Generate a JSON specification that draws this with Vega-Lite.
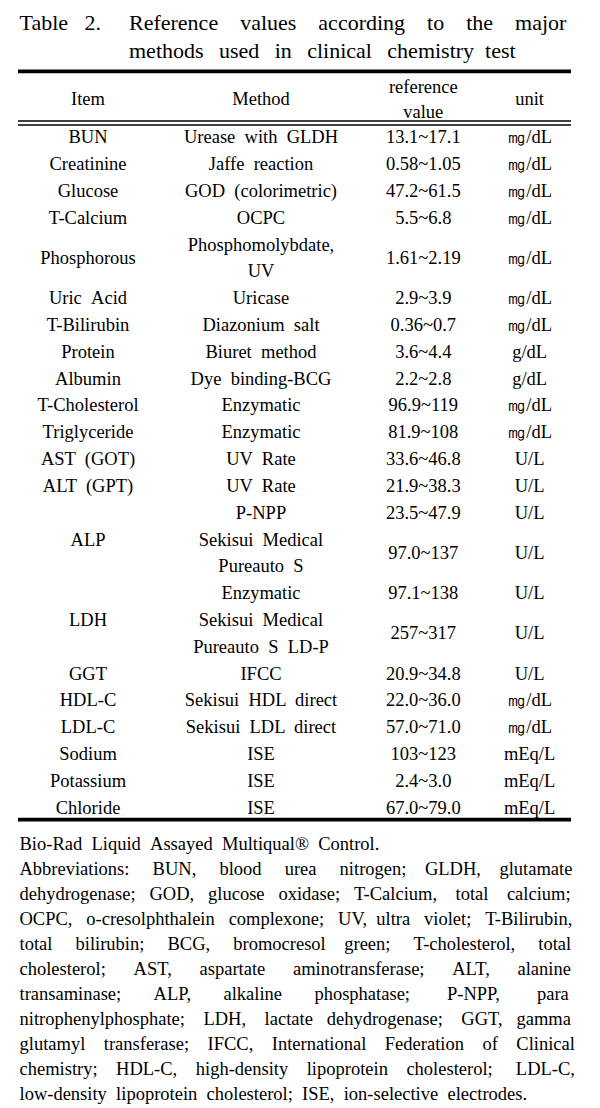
{
  "$schema": "https://vega.github.io/schema/vega-lite/v6.json",
  "width": 600,
  "height": 1108,
  "autosize": {"type": "fit", "contains": "padding"},
  "padding": {"left": 16, "right": 27, "top": 0, "bottom": 0},
  "background": "#ffffff",
  "config": {"view": {"stroke": null}},
  "datasets": {
    "header": [
      {"line": 0, "col": 1, "text": "Item"},
      {"line": 0, "col": 2, "text": "Method"},
      {"line": -0.5, "col": 3, "text": "reference\nvalue"},
      {"line": 0, "col": 4, "text": "unit"}
    ],
    "body": [
      {"line": 1, "col": 1, "text": "BUN"},
      {"line": 1, "col": 2, "text": "Urease \u00a0with \u00a0GLDH"},
      {"line": 1, "col": 3, "text": "13.1~17.1"},
      {"line": 1, "col": 4, "text": "㎎/dL"},
      {"line": 2, "col": 1, "text": "Creatinine"},
      {"line": 2, "col": 2, "text": "Jaffe \u00a0reaction"},
      {"line": 2, "col": 3, "text": "0.58~1.05"},
      {"line": 2, "col": 4, "text": "㎎/dL"},
      {"line": 3, "col": 1, "text": "Glucose"},
      {"line": 3, "col": 2, "text": "GOD \u00a0(colorimetric)"},
      {"line": 3, "col": 3, "text": "47.2~61.5"},
      {"line": 3, "col": 4, "text": "㎎/dL"},
      {"line": 4, "col": 1, "text": "T-Calcium"},
      {"line": 4, "col": 2, "text": "OCPC"},
      {"line": 4, "col": 3, "text": "5.5~6.8"},
      {"line": 4, "col": 4, "text": "㎎/dL"},
      {"line": 5.5, "col": 1, "text": "Phosphorous"},
      {"line": 5, "col": 2, "text": "Phosphomolybdate,\nUV"},
      {"line": 5.5, "col": 3, "text": "1.61~2.19"},
      {"line": 5.5, "col": 4, "text": "㎎/dL"},
      {"line": 7, "col": 1, "text": "Uric \u00a0Acid"},
      {"line": 7, "col": 2, "text": "Uricase"},
      {"line": 7, "col": 3, "text": "2.9~3.9"},
      {"line": 7, "col": 4, "text": "㎎/dL"},
      {"line": 8, "col": 1, "text": "T-Bilirubin"},
      {"line": 8, "col": 2, "text": "Diazonium \u00a0salt"},
      {"line": 8, "col": 3, "text": "0.36~0.7"},
      {"line": 8, "col": 4, "text": "㎎/dL"},
      {"line": 9, "col": 1, "text": "Protein"},
      {"line": 9, "col": 2, "text": "Biuret \u00a0method"},
      {"line": 9, "col": 3, "text": "3.6~4.4"},
      {"line": 9, "col": 4, "text": "g/dL"},
      {"line": 10, "col": 1, "text": "Albumin"},
      {"line": 10, "col": 2, "text": "Dye \u00a0binding-BCG"},
      {"line": 10, "col": 3, "text": "2.2~2.8"},
      {"line": 10, "col": 4, "text": "g/dL"},
      {"line": 11, "col": 1, "text": "T-Cholesterol"},
      {"line": 11, "col": 2, "text": "Enzymatic"},
      {"line": 11, "col": 3, "text": "96.9~119"},
      {"line": 11, "col": 4, "text": "㎎/dL"},
      {"line": 12, "col": 1, "text": "Triglyceride"},
      {"line": 12, "col": 2, "text": "Enzymatic"},
      {"line": 12, "col": 3, "text": "81.9~108"},
      {"line": 12, "col": 4, "text": "㎎/dL"},
      {"line": 13, "col": 1, "text": "AST \u00a0(GOT)"},
      {"line": 13, "col": 2, "text": "UV \u00a0Rate"},
      {"line": 13, "col": 3, "text": "33.6~46.8"},
      {"line": 13, "col": 4, "text": "U/L"},
      {"line": 14, "col": 1, "text": "ALT \u00a0(GPT)"},
      {"line": 14, "col": 2, "text": "UV \u00a0Rate"},
      {"line": 14, "col": 3, "text": "21.9~38.3"},
      {"line": 14, "col": 4, "text": "U/L"},
      {"line": 15, "col": 2, "text": "P-NPP"},
      {"line": 15, "col": 3, "text": "23.5~47.9"},
      {"line": 15, "col": 4, "text": "U/L"},
      {"line": 16, "col": 1, "text": "ALP"},
      {"line": 16, "col": 2, "text": "Sekisui \u00a0Medical\nPureauto \u00a0S"},
      {"line": 16.5, "col": 3, "text": "97.0~137"},
      {"line": 16.5, "col": 4, "text": "U/L"},
      {"line": 18, "col": 2, "text": "Enzymatic"},
      {"line": 18, "col": 3, "text": "97.1~138"},
      {"line": 18, "col": 4, "text": "U/L"},
      {"line": 19, "col": 1, "text": "LDH"},
      {"line": 19, "col": 2, "text": "Sekisui \u00a0Medical\nPureauto \u00a0S \u00a0LD-P"},
      {"line": 19.5, "col": 3, "text": "257~317"},
      {"line": 19.5, "col": 4, "text": "U/L"},
      {"line": 21, "col": 1, "text": "GGT"},
      {"line": 21, "col": 2, "text": "IFCC"},
      {"line": 21, "col": 3, "text": "20.9~34.8"},
      {"line": 21, "col": 4, "text": "U/L"},
      {"line": 22, "col": 1, "text": "HDL-C"},
      {"line": 22, "col": 2, "text": "Sekisui \u00a0HDL \u00a0direct"},
      {"line": 22, "col": 3, "text": "22.0~36.0"},
      {"line": 22, "col": 4, "text": "㎎/dL"},
      {"line": 23, "col": 1, "text": "LDL-C"},
      {"line": 23, "col": 2, "text": "Sekisui \u00a0LDL \u00a0direct"},
      {"line": 23, "col": 3, "text": "57.0~71.0"},
      {"line": 23, "col": 4, "text": "㎎/dL"},
      {"line": 24, "col": 1, "text": "Sodium"},
      {"line": 24, "col": 2, "text": "ISE"},
      {"line": 24, "col": 3, "text": "103~123"},
      {"line": 24, "col": 4, "text": "mEq/L"},
      {"line": 25, "col": 1, "text": "Potassium"},
      {"line": 25, "col": 2, "text": "ISE"},
      {"line": 25, "col": 3, "text": "2.4~3.0"},
      {"line": 25, "col": 4, "text": "mEq/L"},
      {"line": 26, "col": 1, "text": "Chloride"},
      {"line": 26, "col": 2, "text": "ISE"},
      {"line": 26, "col": 3, "text": "67.0~79.0"},
      {"line": 26, "col": 4, "text": "mEq/L"}
    ],
    "title": [
      {"line": 1, "pos": "margin", "text": "Table\u2002 2."},
      {"line": 1, "pos": "indent", "text": "Reference \u2002\u00a0values \u2002\u00a0according \u2002\u00a0to \u2002\u00a0the \u2002\u00a0major"},
      {"line": 2, "pos": "indent", "text": "methods \u00a0\u2009used \u00a0\u2009in \u00a0\u2009clinical \u00a0\u2009chemistry \u00a0test"}
    ],
    "notes": [
      {"line": 3, "pos": "margin", "text": "Bio-Rad \u00a0Liquid \u00a0Assayed \u00a0Multiqual® \u00a0Control."},
      {"line": 4, "pos": "margin", "text": "Abbreviations: \u2002\u2002BUN, \u2002\u2002blood \u2002\u2002urea \u2002\u2002nitrogen; \u2002\u00a0GLDH, \u2002\u00a0glutamate"},
      {"line": 5, "pos": "margin", "text": "dehydrogenase; \u2002GOD, \u2002glucose \u2002oxidase; \u2002T-Calcium, \u2002\u00a0total \u2002\u00a0calcium;"},
      {"line": 6, "pos": "margin", "text": "OCPC, \u2002o-cresolphthalein \u2002complexone; \u2002UV, \u00a0ultra \u2002violet; \u2002T-Bilirubin,"},
      {"line": 7, "pos": "margin", "text": "total \u2003bilirubin; \u2003BCG, \u2003bromocresol \u2002\u00a0green; \u2003T-cholesterol, \u2003total"},
      {"line": 8, "pos": "margin", "text": "cholesterol; \u2003\u00a0AST, \u2003\u00a0aspartate \u2003\u00a0aminotransferase; \u2003\u00a0ALT, \u2003\u00a0alanine"},
      {"line": 9, "pos": "margin", "text": "transaminase; \u2003\u2002ALP, \u2003\u2002alkaline \u2003\u2002phosphatase; \u2003\u2002\u00a0P-NPP, \u2003\u2002\u00a0para"},
      {"line": 10, "pos": "margin", "text": "nitrophenylphosphate; \u2002\u00a0LDH, \u2002\u00a0lactate \u2002dehydrogenase; \u2002\u00a0GGT, \u2002gamma"},
      {"line": 11, "pos": "margin", "text": "glutamyl \u2002\u00a0transferase; \u2002\u00a0IFCC, \u2002\u00a0International \u2002\u00a0Federation \u2002\u00a0of \u2002\u00a0Clinical"},
      {"line": 12, "pos": "margin", "text": "chemistry; \u2002\u00a0HDL-C, \u2002\u00a0high-density \u2002\u00a0lipoprotein \u2002\u00a0cholesterol; \u2002\u00a0\u00a0LDL-C,"},
      {"line": 13, "pos": "margin", "text": "low-density \u00a0lipoprotein \u00a0cholesterol; \u00a0ISE, \u00a0ion-selective \u00a0electrodes."}
    ]
  },
  "layer": [
    {
      "layer": [
        {
          "data": {"name": "header"},
          "mark": {"type": "text", "font": "Liberation Serif", "fontSize": 18.5, "align": "center", "baseline": "middle", "lineBreak": "\n", "lineHeight": 25, "color": "#000000"},
          "encoding": {
            "x": {"field": "col", "type": "quantitative", "axis": null,
                  "scale": {"domain": [1, 2, 3, 4], "range": [70, 243, 405.3, 511.6], "zero": false, "nice": false}},
            "y": {"field": "line", "type": "quantitative", "axis": null,
                  "scale": {"domain": [-1, 0, 1, 26], "range": [74, 99, 137.3, 807.7], "zero": false, "nice": false}},
            "text": {"field": "text", "type": "nominal"}
          }
        },
        {
          "data": {"name": "body"},
          "mark": {"type": "text", "font": "Liberation Serif", "fontSize": 18.5, "align": "center", "baseline": "middle", "lineBreak": "\n", "lineHeight": 26.8, "color": "#000000"},
          "encoding": {
            "x": {"field": "col", "type": "quantitative", "axis": null},
            "y": {"field": "line", "type": "quantitative", "axis": null},
            "text": {"field": "text", "type": "nominal"}
          }
        },
        {
          "data": {"values": [{}]},
          "mark": {"type": "rule", "color": "#000000", "strokeWidth": 3.8},
          "encoding": {"y": {"datum": -1.108, "type": "quantitative"}}
        },
        {
          "data": {"values": [{}]},
          "mark": {"type": "rule", "color": "#000000", "strokeWidth": 1.3},
          "encoding": {"y": {"datum": 0.574, "type": "quantitative"}}
        },
        {
          "data": {"values": [{}]},
          "mark": {"type": "rule", "color": "#000000", "strokeWidth": 1.3},
          "encoding": {"y": {"datum": 0.679, "type": "quantitative"}}
        },
        {
          "data": {"values": [{}]},
          "mark": {"type": "rule", "color": "#000000", "strokeWidth": 3.8},
          "encoding": {"y": {"datum": 26.448, "type": "quantitative"}}
        }
      ]
    },
    {
      "encoding": {
        "x": {"field": "pos", "type": "nominal", "axis": null,
              "scale": {"type": "point", "domain": ["margin", "indent"], "range": [1.5, 111], "padding": 0}},
        "y": {"field": "line", "type": "quantitative", "axis": null,
              "scale": {"domain": [1, 2, 3, 13], "range": [30, 58, 850, 1100], "zero": false, "nice": false}},
        "text": {"field": "text", "type": "nominal"}
      },
      "layer": [
        {
          "data": {"name": "title"},
          "mark": {"type": "text", "font": "Liberation Serif", "fontSize": 22, "align": "left", "baseline": "alphabetic", "color": "#000000"}
        },
        {
          "data": {"name": "notes"},
          "mark": {"type": "text", "font": "Liberation Serif", "fontSize": 18.5, "align": "left", "baseline": "alphabetic", "color": "#000000"}
        }
      ]
    }
  ],
  "resolve": {"scale": {"x": "independent", "y": "independent"}}
}
